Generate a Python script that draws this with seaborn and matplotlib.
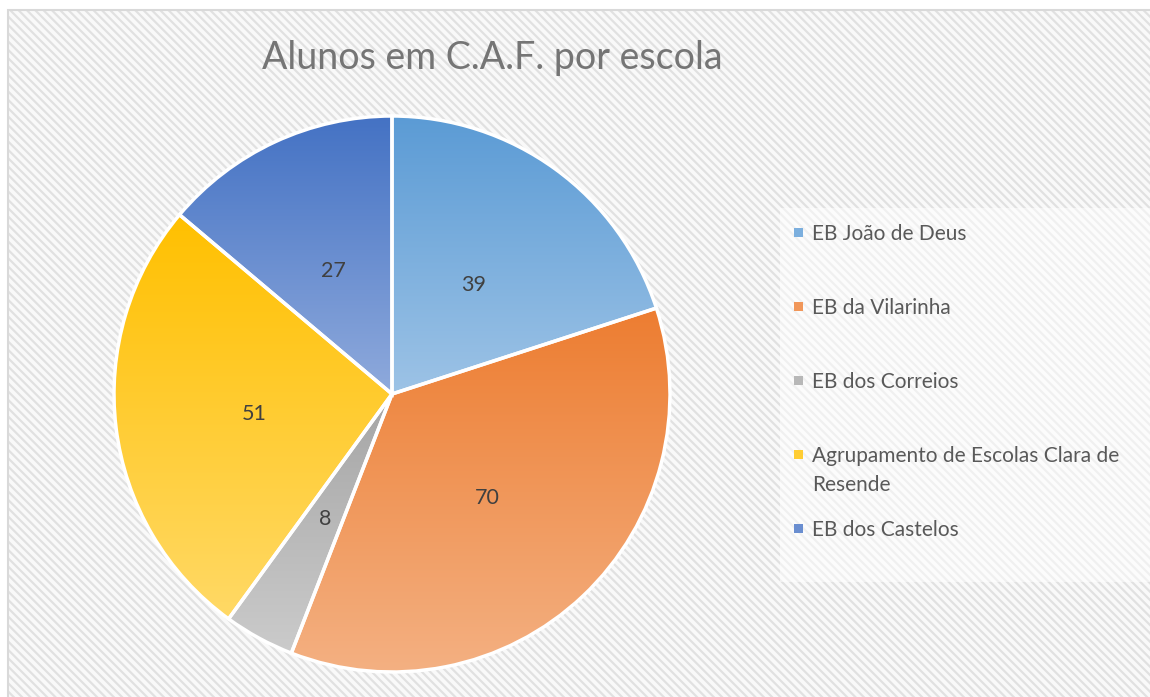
import textwrap

import matplotlib.pyplot as plt
import numpy as np
import seaborn as sns
from matplotlib.colors import to_rgb
from matplotlib.patches import Rectangle

schools = [
    "EB João de Deus",
    "EB da Vilarinha",
    "EB dos Correios",
    "Agrupamento de Escolas Clara de Resende",
    "EB dos Castelos",
]
students = [39, 70, 8, 51, 27]
top_colors = ["#5B9BD5", "#ED7D31", "#A5A5A5", "#FFC000", "#4472C4"]
bottom_colors = ["#9DC3E6", "#F4B183", "#CBCBCB", "#FFD966", "#8FAADC"]
title = "Alunos em C.A.F. por escola"

sns.set_theme(style="white")
plt.rcParams["font.family"] = ["Lato", "DejaVu Sans"]
plt.rcParams["hatch.linewidth"] = 1.6

W, H = 1150, 697
fig = plt.figure(figsize=(W / 100, H / 100), dpi=100)


def fx(px):
    return px / W


def fy(py):
    return 1 - py / H


# hatched chart area + thin border (only top/left visible)
fig.patches.append(Rectangle((fx(8), -0.1), 1, fy(10) + 0.1, transform=fig.transFigure,
                             facecolor="#F9F9F9", edgecolor="#E1E1E1", hatch="\\\\\\\\",
                             linewidth=0, zorder=-3))
fig.patches.append(Rectangle((fx(8), -0.1), 1, fy(10) + 0.1, transform=fig.transFigure,
                             fill=False, edgecolor="#D9D9D9", linewidth=1.5, zorder=-3))
# lighter legend area
fig.patches.append(Rectangle((fx(780), fy(582)), 1, (582 - 208) / H, transform=fig.transFigure,
                             facecolor="white", alpha=0.5, linewidth=0, zorder=-2))

# pie
cx, cy, R = 392, 394, 278
ax = fig.add_axes([fx(cx - R), fy(cy + R), 2 * R / W, 2 * R / H])
wedges, _ = ax.pie(students, startangle=90, counterclock=False, radius=1,
                   wedgeprops=dict(edgecolor="white", linewidth=2.5))

t = np.linspace(0, 1, 256)[:, None, None]
for w, top, bot, val in zip(wedges, top_colors, bottom_colors, students):
    verts = w.get_path().vertices
    y0, y1 = verts[:, 1].min(), verts[:, 1].max()
    x0, x1 = verts[:, 0].min(), verts[:, 0].max()
    grad = np.array(to_rgb(bot)) * (1 - t) + np.array(to_rgb(top)) * t
    im = ax.imshow(grad, extent=[x0, x1, y0, y1], origin="lower", aspect="auto", zorder=1)
    im.set_clip_path(w)
    w.set_facecolor("none")
    w.set_zorder(2)
    mid = np.deg2rad((w.theta1 + w.theta2) / 2)
    ax.text(0.5 * np.cos(mid), 0.5 * np.sin(mid) - 0.012, str(val), ha="center", va="center",
            fontsize=15.5, color="#404040", zorder=3)

ax.set_xlim(-1, 1)
ax.set_ylim(-1, 1)
ax.set_aspect("equal")
ax.axis("off")

fig.text(fx(492), fy(69), title, ha="center", va="baseline", fontsize=27, color="#757575")

# legend
for i, (name, top, bot) in enumerate(zip(schools, top_colors, bottom_colors)):
    base = 240 + 74 * i
    mix = tuple((np.array(to_rgb(top)) + np.array(to_rgb(bot))) / 2)
    fig.patches.append(Rectangle((fx(794), fy(base - 3)), 9 / W, 9 / H, transform=fig.transFigure,
                                 facecolor=mix, linewidth=0, zorder=1))
    for j, line in enumerate(textwrap.wrap(name, 31)):
        fig.text(fx(812), fy(base + 29 * j), line, ha="left", va="baseline",
                 fontsize=15, color="#595959")

fig.savefig("out.png", dpi=100)
